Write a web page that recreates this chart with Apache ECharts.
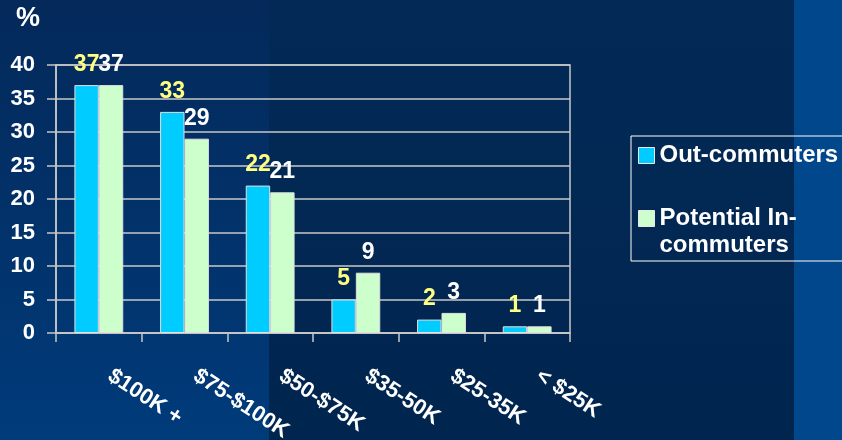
<!DOCTYPE html>
<html>
<head>
<meta charset="utf-8">
<script src="https://cdn.jsdelivr.net/npm/echarts@6/dist/echarts.min.js"></script>
<style>
html,body{margin:0;padding:0;background:#00264f;}
#c{width:842px;height:440px;}
</style>
</head>
<body>
<div id="c"></div>
<script>
const categories = ['$100K +', '$75-$100K', '$50-$75K', '$35-50K', '$25-35K', '< $25K'];
const outCommuters = [37, 33, 22, 5, 2, 1];
const potentialInCommuters = [37, 29, 21, 9, 3, 1];
const yTicks = { min: 0, max: 40, interval: 5 };
const seriesNames = ['Out-commuters', 'Potential In-commuters'];

const FONT = '"Liberation Sans", Arial, sans-serif';
const GRID_COLOR = '#c8c8c8';

const chart = echarts.init(document.getElementById('c'), null, { renderer: 'canvas' });
chart.setOption({
  animation: false,
  backgroundColor: 'transparent',
  graphic: [
    { type: 'rect', z: -10, silent: true, shape: { x: 0, y: 0, width: 269, height: 440 },
      style: { fill: new echarts.graphic.LinearGradient(0, 0, 0, 1, [
        { offset: 0, color: '#04295a' }, { offset: 1, color: '#003b7a' }]) } },
    { type: 'rect', z: -10, silent: true, shape: { x: 269, y: 0, width: 525, height: 440 },
      style: { fill: new echarts.graphic.LinearGradient(0, 0, 0, 1, [
        { offset: 0, color: '#032a57' }, { offset: 1, color: '#00254f' }]) } },
    { type: 'rect', z: -10, silent: true, shape: { x: 794, y: 0, width: 48, height: 440 },
      style: { fill: '#00478c' } }
  ],
  title: {
    text: '%', left: 16, top: 5, padding: 0,
    textStyle: { color: '#ffffff', fontSize: 27, fontWeight: 'bold', fontFamily: FONT }
  },
  legend: {
    orient: 'vertical',
    left: 631, top: 136,
    padding: [6, 5, 2, 7],
    itemGap: 9,
    itemWidth: 16, itemHeight: 16,
    icon: 'rect',
    borderColor: '#ffffff', borderWidth: 1, borderRadius: 0,
    formatter: function (name) { return name === seriesNames[1] ? '\u00a0\nPotential In-\ncommuters' : name; },
    textStyle: { color: '#ffffff', fontSize: 24, fontWeight: 'bold', fontFamily: FONT, lineHeight: 27 },
    data: [
      { name: seriesNames[0], itemStyle: { borderColor: '#e8e8e8', borderWidth: 1 } },
      { name: seriesNames[1], itemStyle: { borderColor: '#e8e8e8', borderWidth: 1 } }
    ]
  },
  grid: {
    left: 56, right: 272, top: 65, bottom: 107,
    outerBoundsMode: 'none',
    containLabel: false,
    show: true, borderColor: GRID_COLOR, borderWidth: 1.5, backgroundColor: 'transparent'
  },
  xAxis: {
    type: 'category',
    data: categories,
    boundaryGap: true,
    axisLine: { show: true, lineStyle: { color: GRID_COLOR, width: 1.5 } },
    axisTick: { show: true, alignWithLabel: false, length: 9, lineStyle: { color: GRID_COLOR, width: 1.5 } },
    axisLabel: {
      interval: 0, rotate: -33, margin: 34,
      padding: [0, 0, 0, 13],
      color: '#ffffff', fontSize: 22, fontWeight: 'bold', fontFamily: FONT
    },
    splitLine: { show: false }
  },
  yAxis: {
    type: 'value',
    min: yTicks.min, max: yTicks.max, interval: yTicks.interval,
    axisLine: { show: true, lineStyle: { color: GRID_COLOR, width: 1.5 } },
    axisTick: { show: true, length: 9, lineStyle: { color: GRID_COLOR, width: 1.5 } },
    axisLabel: { margin: 21, color: '#ffffff', fontSize: 22, fontWeight: 'bold', fontFamily: FONT },
    splitLine: { show: true, lineStyle: { color: GRID_COLOR, width: 1.5 } }
  },
  series: [
    {
      name: seriesNames[0], type: 'bar', data: outCommuters,
      barGap: '0%', barCategoryGap: '43%',
      itemStyle: { color: '#00ccff', borderColor: '#e0e0e0', borderWidth: 1 },
      label: { show: true, position: 'top', distance: 9, color: '#ffff80', fontSize: 23, fontWeight: 'bold', fontFamily: FONT }
    },
    {
      name: seriesNames[1], type: 'bar', data: potentialInCommuters,
      barGap: '0%', barCategoryGap: '43%',
      itemStyle: { color: '#ccffcc', borderColor: '#e0e0e0', borderWidth: 1 },
      label: { show: true, position: 'top', distance: 9, color: '#ffffff', fontSize: 23, fontWeight: 'bold', fontFamily: FONT }
    }
  ]
});
</script>
</body>
</html>
